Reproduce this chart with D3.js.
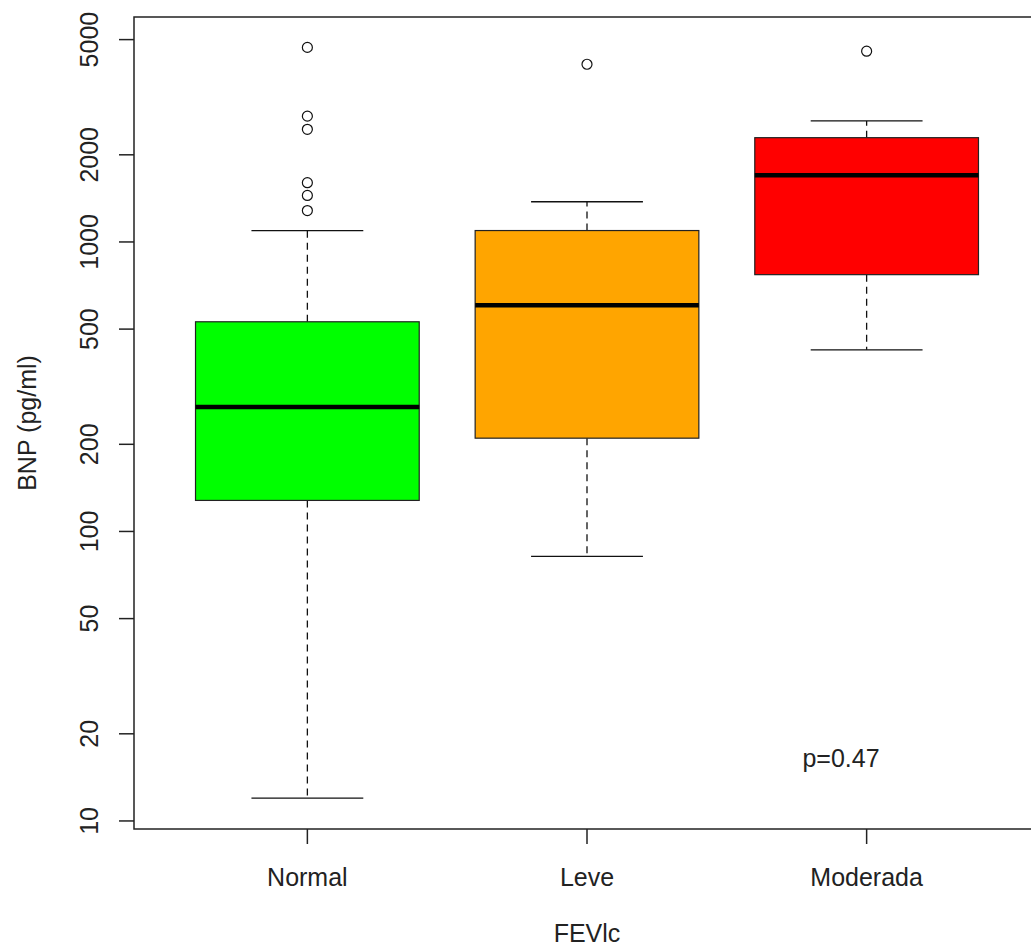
<!DOCTYPE html>
<html>
<head>
<meta charset="utf-8">
<script src="https://cdn.jsdelivr.net/npm/d3@7.9.0/dist/d3.min.js"></script>
<style>
  body { margin: 0; background: #fff; }
  text { font-family: "Liberation Sans", Arial, sans-serif; fill: #222; }
</style>
</head>
<body>
<svg id="chart" width="1031" height="950"></svg>
<script>
// groups and box stats (pg/ml, log axis)
const groups = ['Normal', 'Leve', 'Moderada'];
const colors = ['#00ff00', '#ffa500', '#ff0000'];
const lowWhisker = [12, 82, 424];
const q1 = [128, 210, 771];
const median = [269, 604, 1699];
const q3 = [530, 1095, 2292];
const highWhisker = [1095, 1377, 2618];
const outliers = [
  [4700, 2720, 2450, 1602, 1448, 1284],
  [4110],
  [4560]
];
const yTicks = [10, 20, 50, 100, 200, 500, 1000, 2000, 5000];

const svg = d3.select('#chart');
const plotLeft = 134, plotRight = 1040, plotTop = 17, plotBottom = 829;

// R pads the range by 4% on each side
let x = d3.scaleLinear().domain([0.38, 3.62]).range([plotLeft, plotRight]);
let y = d3.scaleLog().domain([9.38, 5985]).range([plotBottom, plotTop]);

const halfBox = x(1.4) - x(1);
const halfCap = halfBox / 2;

groups.forEach((g, i) => {
  let cx = x(i + 1);
  let grp = svg.append('g');

  // dashed whiskers
  grp.append('line')
    .attr('x1', cx).attr('x2', cx)
    .attr('y1', y(q3[i])).attr('y2', y(highWhisker[i]))
    .attr('stroke', '#111').attr('stroke-width', 1.3)
    .attr('stroke-dasharray', '7,5');
  grp.append('line')
    .attr('x1', cx).attr('x2', cx)
    .attr('y1', y(q1[i])).attr('y2', y(lowWhisker[i]))
    .attr('stroke', '#111').attr('stroke-width', 1.3)
    .attr('stroke-dasharray', '7,5');

  // staples
  [lowWhisker[i], highWhisker[i]].forEach(v => {
    grp.append('line')
      .attr('x1', cx - halfCap).attr('x2', cx + halfCap)
      .attr('y1', y(v)).attr('y2', y(v))
      .attr('stroke', '#111').attr('stroke-width', 1.3);
  });

  // box
  grp.append('rect')
    .attr('x', cx - halfBox)
    .attr('y', y(q3[i]))
    .attr('width', halfBox * 2)
    .attr('height', y(q1[i]) - y(q3[i]))
    .attr('fill', colors[i])
    .attr('stroke', '#222').attr('stroke-width', 1.2);

  // median
  grp.append('line')
    .attr('x1', cx - halfBox).attr('x2', cx + halfBox)
    .attr('y1', y(median[i])).attr('y2', y(median[i]))
    .attr('stroke', '#000').attr('stroke-width', 4.5);

  // outliers
  outliers[i].forEach(v => {
    grp.append('circle')
      .attr('cx', cx).attr('cy', y(v)).attr('r', 5)
      .attr('fill', 'none').attr('stroke', '#111').attr('stroke-width', 1.2);
  });
});

// frame
svg.append('rect')
  .attr('x', plotLeft).attr('y', plotTop)
  .attr('width', plotRight - plotLeft).attr('height', plotBottom - plotTop)
  .attr('fill', 'none').attr('stroke', '#222').attr('stroke-width', 1.5);

// y axis ticks + rotated labels
yTicks.forEach(t => {
  svg.append('line')
    .attr('x1', plotLeft - 15).attr('x2', plotLeft)
    .attr('y1', y(t)).attr('y2', y(t))
    .attr('stroke', '#222').attr('stroke-width', 1.5);
  svg.append('text')
    .attr('transform', `translate(98,${y(t)}) rotate(-90)`)
    .attr('text-anchor', 'middle')
    .style('font-size', '25px')
    .text(t);
});

// x axis ticks + labels
groups.forEach((g, i) => {
  svg.append('line')
    .attr('x1', x(i + 1)).attr('x2', x(i + 1))
    .attr('y1', plotBottom).attr('y2', plotBottom + 15)
    .attr('stroke', '#222').attr('stroke-width', 1.5);
  svg.append('text')
    .attr('x', x(i + 1)).attr('y', 886)
    .attr('text-anchor', 'middle')
    .style('font-size', '25px')
    .text(g);
});

// axis titles
svg.append('text')
  .attr('x', (plotLeft + plotRight) / 2).attr('y', 942)
  .attr('text-anchor', 'middle')
  .style('font-size', '25px')
  .text('FEVlc');
svg.append('text')
  .attr('transform', `translate(36,${(plotTop + plotBottom) / 2}) rotate(-90)`)
  .attr('text-anchor', 'middle')
  .style('font-size', '25px')
  .text('BNP (pg/ml)');

// p value note
svg.append('text')
  .attr('x', 841).attr('y', 767)
  .attr('text-anchor', 'middle')
  .style('font-size', '25px')
  .text('p=0.47');
</script>
</body>
</html>
